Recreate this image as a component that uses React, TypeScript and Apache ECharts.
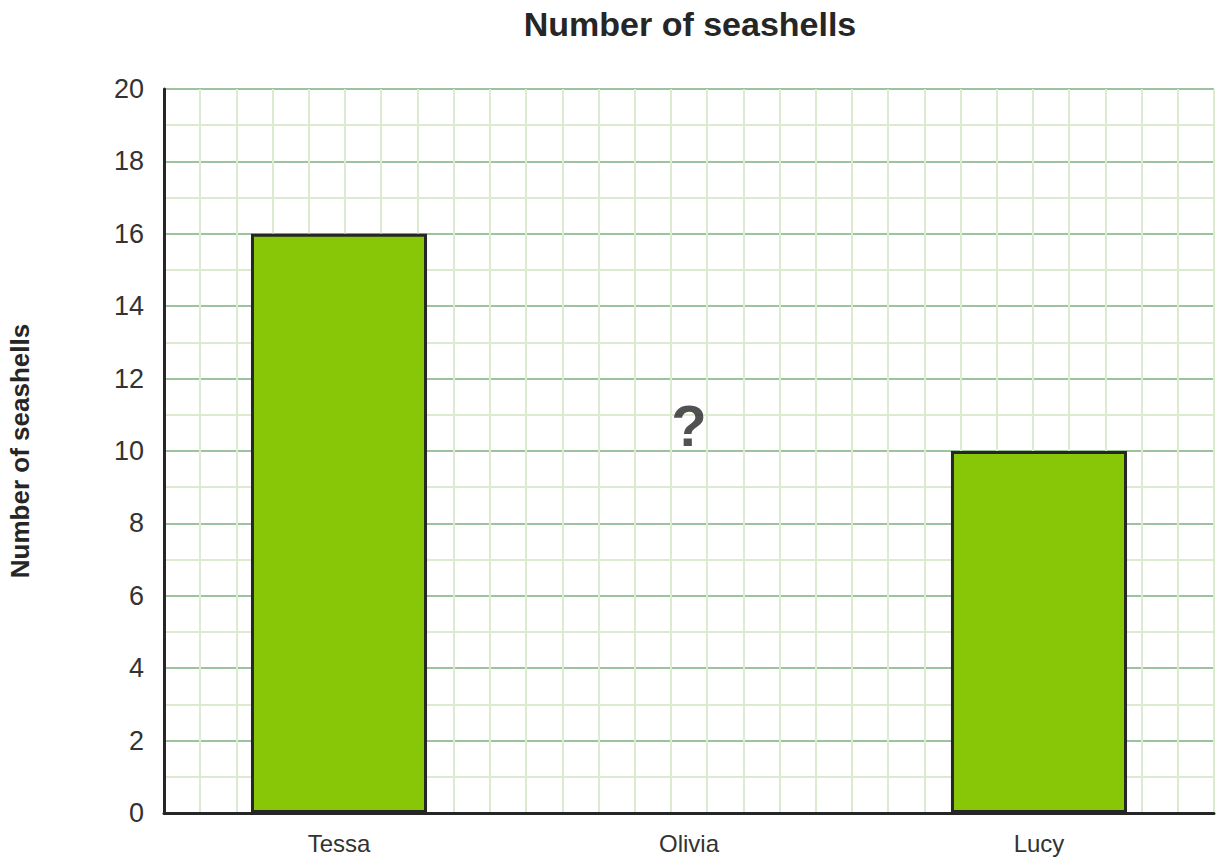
import React, { useEffect, useRef } from "react";
import * as echarts from "echarts";

const categories = ["Tessa", "Olivia", "Lucy"];
const seashells: (number | null)[] = [16, null, 10];
const unknownLabel = [["Olivia", 10.7]];
const yTicks = { min: 0, max: 20, interval: 2 };
const verticalGrid = { min: 0, max: 29, interval: 1 };

const FONT = "'Liberation Sans', Arial, sans-serif";

export default function App() {
  const ref = useRef<HTMLDivElement>(null);
  useEffect(() => {
    if (!ref.current) return;
    const chart = echarts.init(ref.current, null, { renderer: "svg" });
    chart.setOption({
      animation: false,
      backgroundColor: "#ffffff",
      title: {
        text: "Number of seashells",
        left: 685,
        textAlign: "center",
        top: 2,
        textStyle: { fontFamily: FONT, fontSize: 34, fontWeight: "bold", color: "#262626" },
      },
      grid: { left: 164, right: 10, top: 89, bottom: 53, outerBoundsMode: "none", containLabel: false },
      xAxis: [
        {
          type: "category",
          data: categories,
          axisLine: { show: true, lineStyle: { color: "#262626", width: 3 } },
          axisTick: { show: false },
          axisLabel: { fontFamily: FONT, fontSize: 24, color: "#333333", margin: 18 },
          splitLine: { show: false },
        },
        {
          type: "value",
          position: "top",
          min: verticalGrid.min,
          max: verticalGrid.max,
          interval: verticalGrid.interval,
          axisLine: { show: false },
          axisTick: { show: false },
          axisLabel: { show: false },
          splitLine: { show: true, lineStyle: { color: "#dcebd0", width: 2 } },
        },
      ],
      yAxis: {
        type: "value",
        min: yTicks.min,
        max: yTicks.max,
        interval: yTicks.interval,
        name: "Number of seashells",
        nameLocation: "middle",
        nameGap: 131,
        nameTextStyle: { fontFamily: FONT, fontSize: 26, fontWeight: "bold", color: "#262626" },
        axisLine: { show: true, lineStyle: { color: "#262626", width: 3 } },
        axisTick: { show: false },
        axisLabel: { fontFamily: FONT, fontSize: 27, color: "#333333", margin: 20 },
        splitLine: { show: true, lineStyle: { color: "#9cc29e", width: 2 } },
        minorTick: { show: false, splitNumber: 2 },
        minorSplitLine: { show: true, lineStyle: { color: "#dcebd0", width: 2 } },
      },
      series: [
        {
          type: "bar",
          data: seashells,
          barWidth: "50.3%",
          itemStyle: { color: "#88c708", borderColor: "#262626", borderWidth: 3 },
          z: 3,
        },
        {
          type: "scatter",
          data: unknownLabel,
          symbolSize: 0,
          label: {
            show: true,
            position: "inside",
            formatter: "?",
            fontFamily: FONT,
            fontSize: 58,
            fontWeight: "bold",
            color: "#262626",
          },
          z: 4,
        },
      ],
    });
    return () => chart.dispose();
  }, []);
  return <div ref={ref} style={{ width: 1224, height: 866, position: "absolute", left: 0, top: 0 }} />;
}
